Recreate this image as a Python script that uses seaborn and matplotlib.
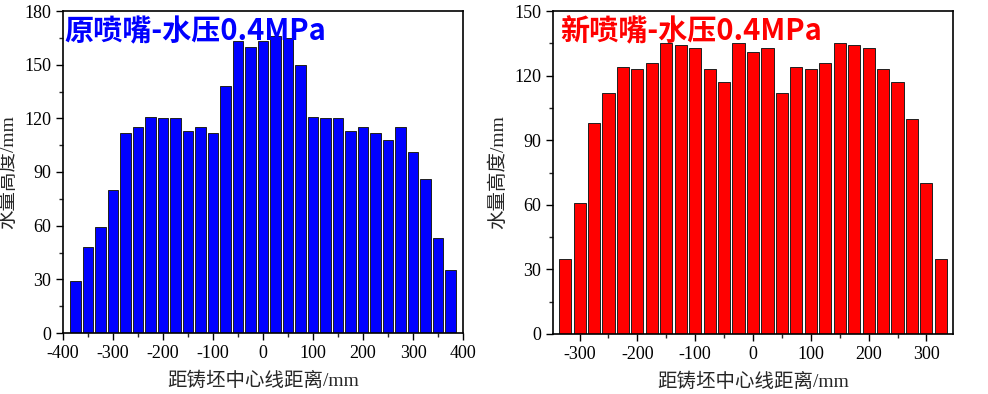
import matplotlib
matplotlib.use("Agg")
import matplotlib.pyplot as plt
import seaborn as sns
import numpy as np
import pandas as pd
from matplotlib.ticker import MultipleLocator

# Data
left_pos = [-375, -350, -325, -300, -275, -250, -225, -200, -175, -150, -125, -100, -75, -50, -25,
            0, 25, 50, 75, 100, 125, 150, 175, 200, 225, 250, 275, 300, 325, 350, 375]
left_vals = [29, 48, 59, 80, 112, 115, 121, 120, 120, 113, 115, 112, 138, 163, 160,
             163, 166, 165, 150, 121, 120, 120, 113, 115, 112, 108, 115, 101, 86, 53, 35]
right_pos = [-325, -300, -275, -250, -225, -200, -175, -150, -125, -100, -75, -50, -25,
             0, 25, 50, 75, 100, 125, 150, 175, 200, 225, 250, 275, 300, 325]
right_vals = [35, 61, 98, 112, 124, 123, 126, 135, 134, 133, 123, 117, 135,
              131, 133, 112, 124, 123, 126, 135, 134, 133, 123, 117, 100, 70, 35]
left_title = "原喷嘴-水压0.4MPa"
right_title = "新喷嘴-水压0.4MPa"
xlabel = "距铸坯中心线距离/mm"
ylabel = "水量高度/mm"

sns.set_style("white")
plt.rcParams['font.family'] = ['Liberation Serif', 'Noto Sans CJK SC', 'DejaVu Sans']
plt.rcParams['axes.unicode_minus'] = False

fig = plt.figure(figsize=(9.88, 3.94), dpi=100)
W, H = 988, 394
axL = fig.add_axes([63 / W, 1 - 333 / H, 400 / W, 322 / H])
axR = fig.add_axes([553 / W, 1 - 334 / H, 400 / W, 323 / H])

def draw(ax, pos, vals, color, title, xlim, ylim, xmaj, ymaj, tx):
    df = pd.DataFrame({"x": pos, "y": vals})
    sns.barplot(data=df, x="x", y="y", native_scale=True, color=color, width=0.84,
                edgecolor="#202020", linewidth=0.7, saturation=1, ax=ax)
    ax.set_xlim(*xlim)
    ax.set_ylim(*ylim)
    ax.xaxis.set_major_locator(MultipleLocator(xmaj))
    ax.xaxis.set_minor_locator(MultipleLocator(xmaj / 2))
    ax.yaxis.set_major_locator(MultipleLocator(ymaj))
    ax.yaxis.set_minor_locator(MultipleLocator(ymaj / 2))
    ax.tick_params(axis="both", which="major", direction="out", length=5, width=1,
                   labelsize=13, bottom=True, left=True, top=False, right=False, colors="black")
    ax.tick_params(axis="both", which="minor", direction="out", length=3, width=1,
                   bottom=True, left=True, top=False, right=False)
    for sp in ax.spines.values():
        sp.set_color("black")
        sp.set_linewidth(1.2)
        sp.set_visible(True)
    ax.set_xlabel(xlabel, fontsize=14, labelpad=7)
    ax.set_ylabel(ylabel, fontsize=14, labelpad=5)
    ax.text(tx, 0.985, title, transform=ax.transAxes, ha="left", va="top",
            fontsize=21, fontweight="bold", color=color,
            family=['Noto Sans CJK SC', 'DejaVu Sans'])

draw(axL, left_pos, left_vals, "#0000FF", left_title, (-400, 400), (0, 180), 100, 30, 0.003)
draw(axR, right_pos, right_vals, "#FF0000", right_title, (-346, 346), (0, 150), 100, 30, 0.018)

fig.savefig("out.png", dpi=100)
